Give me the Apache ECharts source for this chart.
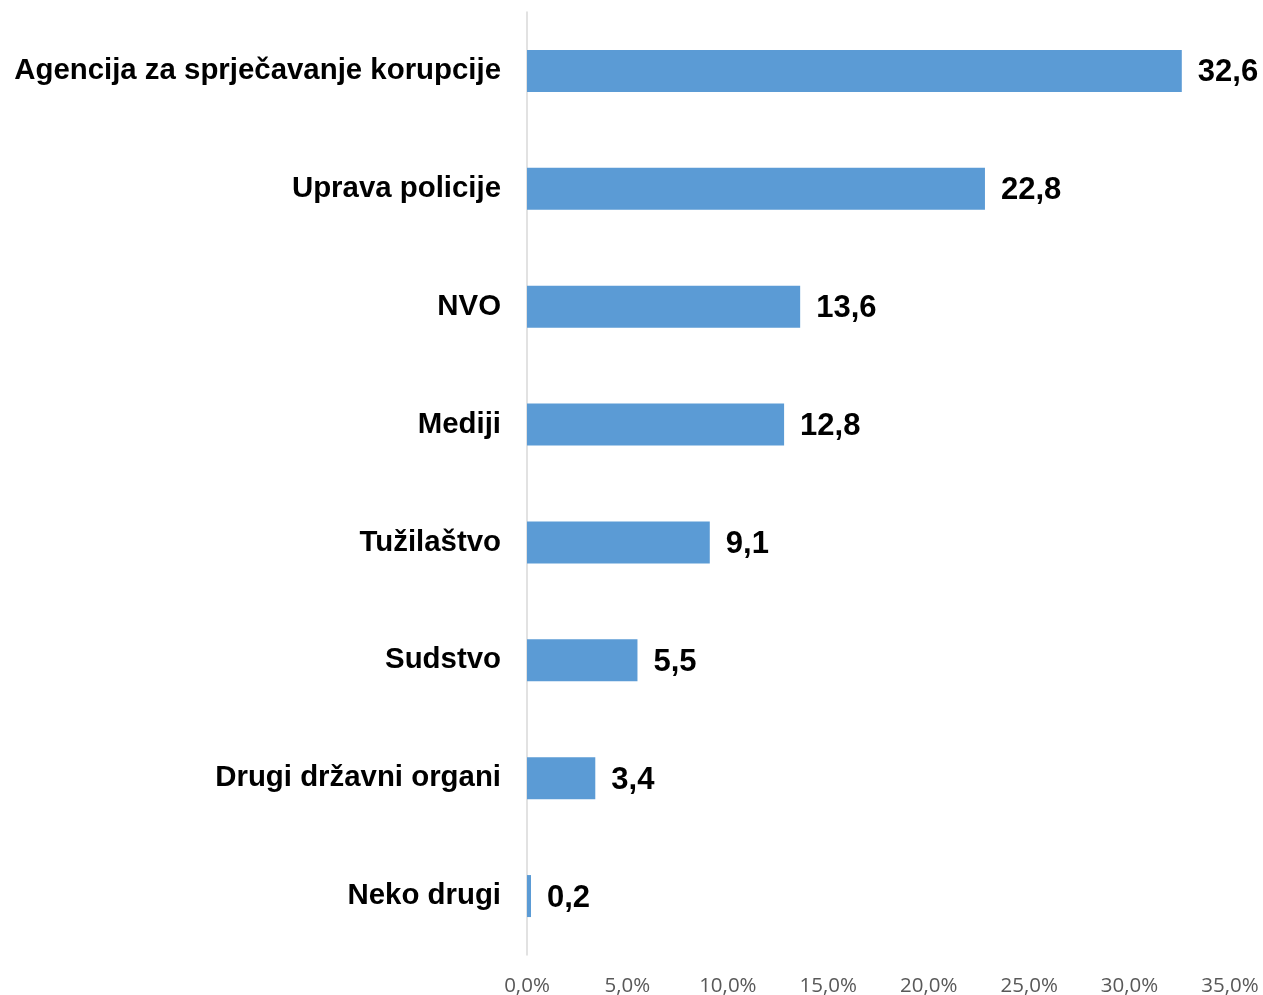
<!DOCTYPE html>
<html>
<head>
<meta charset="utf-8">
<script src="https://cdn.jsdelivr.net/npm/echarts@6/dist/echarts.min.js"></script>
<style>
  html, body { margin: 0; padding: 0; background: #fff; }
  #chart { width: 1263px; height: 995px; }
</style>
</head>
<body>
<div id="chart"></div>
<script>
// kategorije, odozgo prema dolje
var categories = ['Agencija za sprječavanje korupcije', 'Uprava policije', 'NVO', 'Mediji', 'Tužilaštvo', 'Sudstvo', 'Drugi državni organi', 'Neko drugi']
var values = [32.6, 22.8, 13.6, 12.8, 9.1, 5.5, 3.4, 0.2]
var xTicks = [0, 5, 10, 15, 20, 25, 30, 35]

function comma (v) {
  return Number(v).toFixed(1).replace('.', ',')
}

var myChart = echarts.init(document.getElementById('chart'))
myChart.setOption({
  animation: false,
  color: ['#5B9BD5'],
  grid: {
    top: 12,
    left: 527,
    right: 33,
    bottom: 40,
    containLabel: false,
    outerBoundsMode: 'none'
  },
  xAxis: {
    type: 'value',
    min: xTicks[0],
    max: xTicks[xTicks.length - 1],
    interval: xTicks[1] - xTicks[0],
    axisLine: { show: false },
    axisTick: { show: false },
    splitLine: { show: false },
    axisLabel: {
      margin: 21,
      color: '#595959',
      fontFamily: 'Open Sans',
      fontSize: 20.5,
      formatter: function (v) { return comma(v) + '%' }
    }
  },
  yAxis: {
    type: 'category',
    inverse: true,
    data: categories,
    axisTick: { show: false },
    axisLine: { show: true, lineStyle: { color: '#D9D9D9', width: 1.5 } },
    axisLabel: {
      margin: 26,
      color: '#000',
      fontFamily: 'Liberation Sans',
      fontWeight: 'bold',
      fontSize: 29.4,
      padding: [4, 0, 0, 0]
    }
  },
  series: [
    {
      type: 'bar',
      barWidth: 42,
      data: values,
      label: {
        show: true,
        position: 'right',
        distance: 16,
        offset: [0, 2],
        color: '#000',
        fontFamily: 'Liberation Sans',
        fontWeight: 'bold',
        fontSize: 31,
        formatter: function (p) { return comma(p.value) }
      }
    }
  ]
})
</script>
</body>
</html>
